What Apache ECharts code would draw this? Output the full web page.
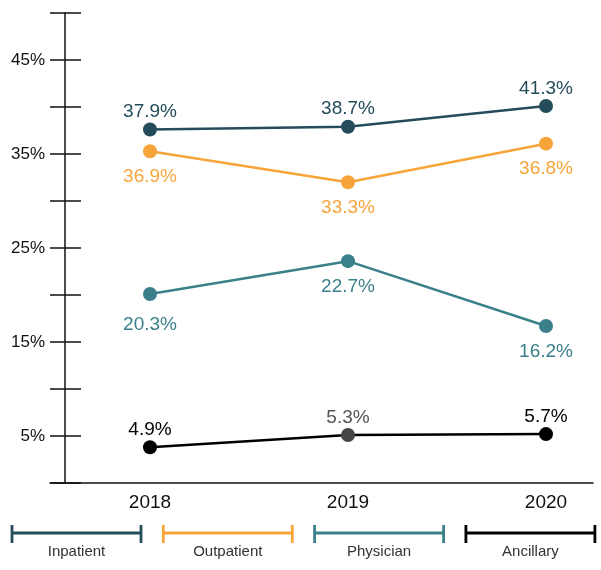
<!DOCTYPE html>
<html>
<head>
<meta charset="utf-8">
<script src="https://cdn.jsdelivr.net/npm/echarts@6/dist/echarts.min.js"></script>
<style>
html, body { margin: 0; padding: 0; background: #fff; }
#chart { width: 601px; height: 570px; }
</style>
</head>
<body>
<div id="chart"></div>
<script>
// 数据
var years = [2018, 2019, 2020];
var names = ['Inpatient', 'Outpatient', 'Physician', 'Ancillary'];
var colors = ['#254c5a', '#f7a43a', '#3a808b', '#000000'];
// 点的位置
var inpatient = [37.6, 37.9, 40.1];
var outpatient = [35.3, 32.0, 36.1];
var physician = [20.1, 23.6, 16.7];
var ancillary = [3.8, 5.1, 5.2];
// 标签文字
var inpatientLabels = ['37.9%', '38.7%', '41.3%'];
var outpatientLabels = ['36.9%', '33.3%', '36.8%'];
var physicianLabels = ['20.3%', '22.7%', '16.2%'];
var ancillaryLabels = ['4.9%', '5.3%', '5.7%'];
var labelPos = ['top', 'bottom', 'bottom', 'top'];

var values = [inpatient, outpatient, physician, ancillary];
var labels = [inpatientLabels, outpatientLabels, physicianLabels, ancillaryLabels];

var font = '"Liberation Sans", Arial, sans-serif';
var chart = echarts.init(document.getElementById('chart'));

var series = names.map(function (name, s) {
    return {
        name: name,
        type: 'line',
        symbol: 'circle',
        symbolSize: 14,
        lineStyle: { color: colors[s], width: 2.5 },
        itemStyle: { color: colors[s] },
        data: years.map(function (y, i) {
            var d = { value: [y, values[s][i]] };
            // 2019 Ancillary 点是深灰色
            if (s === 3 && i === 1) {
                d.itemStyle = { color: '#444' };
                d.label = { color: '#555' };
            }
            // 2018 Physician 标签稍低
            if (s === 2 && i === 0) {
                d.label = { distance: 14 };
            }
            return d;
        }),
        label: {
            show: true,
            position: labelPos[s],
            distance: labelPos[s] === 'top' ? 1 : 9,
            fontFamily: font,
            fontSize: 19,
            color: colors[s],
            formatter: function (p) { return labels[s][p.dataIndex]; }
        },
        z: 10 - s
    };
});

var legendGraphics = [];
names.forEach(function (name, i) {
    var x0 = 12 + i * 151.3, x1 = x0 + 129;
    var st = { stroke: colors[i], lineWidth: 2.8 };
    legendGraphics.push({ type: 'line', shape: { x1: x0, y1: 533, x2: x1, y2: 533 }, style: st });
    legendGraphics.push({ type: 'line', shape: { x1: x0, y1: 525, x2: x0, y2: 543 }, style: st });
    legendGraphics.push({ type: 'line', shape: { x1: x1, y1: 525, x2: x1, y2: 543 }, style: st });
    legendGraphics.push({
        type: 'text', x: (x0 + x1) / 2, y: 552,
        style: { text: name, fill: '#333', font: '15px ' + font, textAlign: 'center', textVerticalAlign: 'middle' }
    });
});

var yBase = {
    type: 'value', min: 0, max: 50, interval: 5, position: 'left', offset: -15,
    splitLine: { show: false }
};

var option = {
    animation: false,
    grid: { left: 50, right: 8, top: 13, bottom: 87 },
    xAxis: {
        type: 'value',
        min: 2018 - 100 / 198,
        max: 2020 + 47 / 198,
        axisLine: { show: true, lineStyle: { color: '#111', width: 1.5 } },
        axisTick: { show: false },
        splitLine: { show: false },
        axisLabel: {
            customValues: years,
            fontFamily: font, fontSize: 19, color: '#111', margin: 10,
            formatter: function (v) { return String(v); }
        }
    },
    yAxis: [
        echarts.util.merge({
            axisLine: { show: true, onZero: false, lineStyle: { color: '#111', width: 1.5 } },
            axisTick: { show: true, length: 15, lineStyle: { color: '#111', width: 1.5 } },
            axisLabel: {
                fontFamily: font, fontSize: 17, color: '#111', margin: 20,
                formatter: function (v) { return v % 10 === 5 ? v + '%' : ''; }
            }
        }, yBase, true),
        echarts.util.merge({
            axisLine: { show: false },
            axisTick: { show: true, inside: true, length: 16, lineStyle: { color: '#111', width: 1.5 } },
            axisLabel: { show: false }
        }, yBase, true)
    ],
    series: series,
    graphic: legendGraphics
};

chart.setOption(option);
</script>
</body>
</html>
